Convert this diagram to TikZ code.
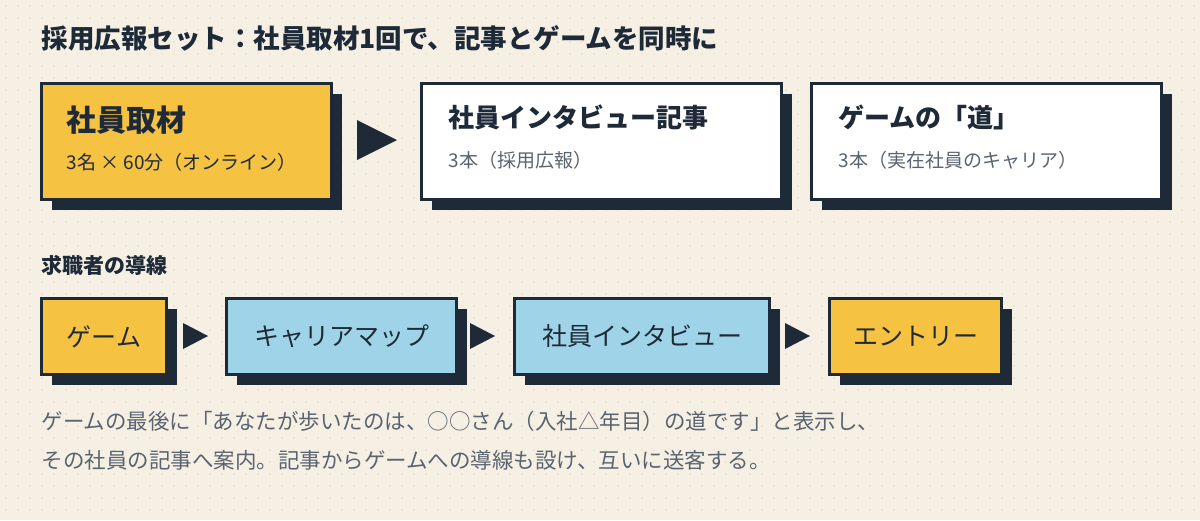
\documentclass[tikz,border=0pt]{standalone}
\usepackage{fontspec}
\setmainfont{Noto Sans CJK JP}
\usetikzlibrary{positioning}
\definecolor{ink}{HTML}{1E2A38}
\definecolor{paper}{HTML}{F6F0E4}
\definecolor{dotc}{HTML}{E6DDCB}
\definecolor{gold}{HTML}{F5C242}
\definecolor{sky}{HTML}{9FD3E8}
\definecolor{note}{HTML}{5A6470}
\tikzset{
  card/.style={draw=ink, line width=3pt, anchor=north west, inner sep=0pt},
  shadowed/.style={preaction={fill=ink, transform canvas={shift={(10pt,-10pt)}}}},
  flowbox/.style={card, shadowed, minimum height=76pt, font=\fontsize{25}{27}\selectfont, text=ink},
  tip/.style={fill=ink, draw=none},
}
\begin{document}
\begin{tikzpicture}[x=1pt, y=-1pt]
  \fill[paper] (0,0) rectangle (1200,520);
  \useasboundingbox (0,0) rectangle (1200,520);
  \foreach \i in {0,...,99}
    \foreach \j in {0,...,43}
      \fill[dotc] (6+12*\i, 6+12*\j) circle[radius=0.9pt];

  \node[anchor=west, text=ink, font=\fontsize{26.5}{28}\selectfont\bfseries] (title) at (38,38)
    {採用広報セット：社員取材1回で、記事とゲームを同時に};

  % top row
  \node[card, shadowed, fill=gold, minimum width=290pt, minimum height=116pt] (interview) at (40,82) {};
  \node[card, shadowed, fill=white, minimum width=360pt, minimum height=116pt] (article) at (420,82) {};
  \node[card, shadowed, fill=white, minimum width=350pt, minimum height=116pt] (game) at (810,82) {};
  \node[anchor=west, text=ink, font=\fontsize{30}{32}\selectfont\bfseries] at (63,120) {社員取材};
  \node[anchor=west, text=ink, font=\fontsize{19}{21}\selectfont] at (63,162) {3名 × 60分（オンライン）};
  \node[anchor=west, text=ink, font=\fontsize{26}{28}\selectfont\bfseries] at (445,117) {社員インタビュー記事};
  \node[anchor=west, text=note, font=\fontsize{19}{21}\selectfont] at (445,160) {3本（採用広報）};
  \node[anchor=west, text=ink, font=\fontsize{26}{28}\selectfont\bfseries] at (835,117) {ゲームの「道」};
  \node[anchor=west, text=note, font=\fontsize{19}{21}\selectfont] at (835,160) {3本（実在社員のキャリア）};
  \fill[tip] (357,120) -- (397,140) -- (357,160) -- cycle;

  \node[anchor=west, text=ink, font=\fontsize{21}{23}\selectfont\bfseries] (flow) at (38,265) {求職者の導線};

  % bottom row
  \node[flowbox, fill=gold, minimum width=125pt] (s1) at (40,297) {ゲーム};
  \node[flowbox, fill=sky, minimum width=230pt] (s2) at (225,297) {キャリアマップ};
  \node[flowbox, fill=sky, minimum width=255pt] (s3) at (513,297) {社員インタビュー};
  \node[flowbox, fill=gold, minimum width=172pt] (s4) at (828,297) {エントリー};
  \fill[tip] (183,323) -- (208,336) -- (183,349) -- cycle;
  \fill[tip] (470,323) -- (495,336) -- (470,349) -- cycle;
  \fill[tip] (785,323) -- (810,336) -- (785,349) -- cycle;

  \node[anchor=west, text=note, font=\fontsize{21.5}{23}\selectfont] (line1) at (38,421)
    {ゲームの最後に「あなたが歩いたのは、○○さん（入社△年目）の道です」と表示し、};
  \node[anchor=west, text=note, font=\fontsize{21.5}{23}\selectfont] (line2) at (38,460)
    {その社員の記事へ案内。記事からゲームへの導線も設け、互いに送客する。};
\end{tikzpicture}
\end{document}
